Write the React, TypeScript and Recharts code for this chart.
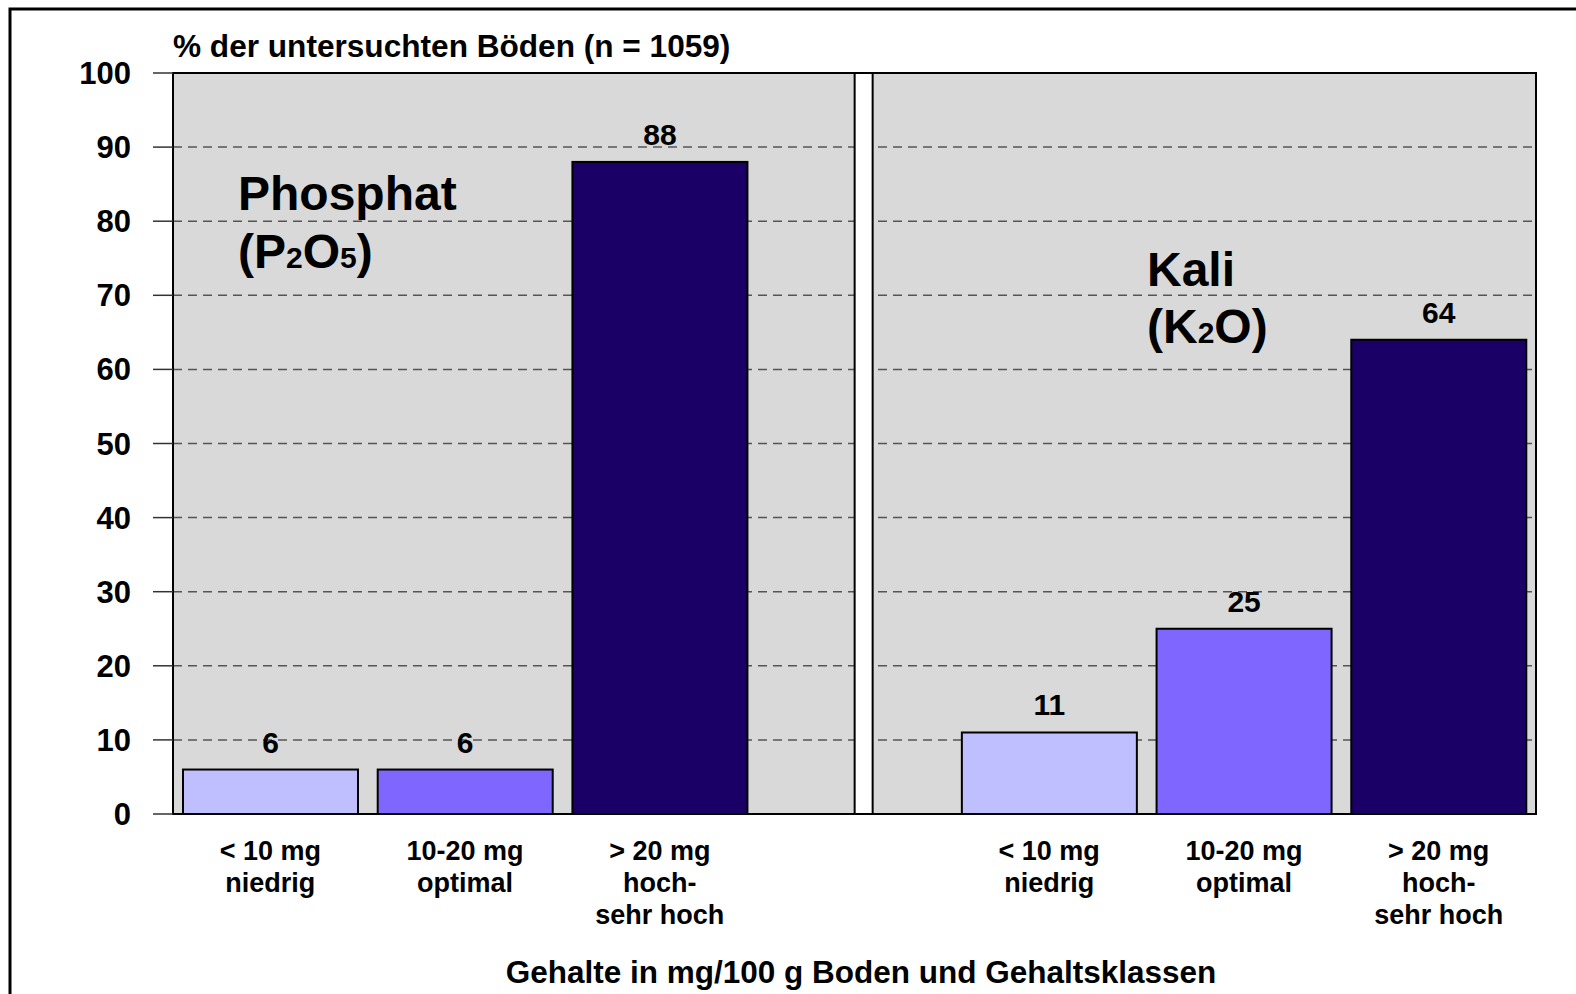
import { BarChart, Bar, XAxis, YAxis, CartesianGrid, Cell, LabelList, ReferenceArea } from "recharts"

// Gehaltsklassen (x-axis tick lines)
const classLabels = [
  ["< 10 mg", "niedrig"],
  ["10-20 mg", "optimal"],
  ["> 20 mg", "hoch-", "sehr hoch"],
]
// % der untersuchten Böden
const phosphat = [6, 6, 88]
const kali = [11, 25, 64]
const yTicks = [0, 10, 20, 30, 40, 50, 60, 70, 80, 90, 100]
const classColors = ["#bfbfff", "#7f66ff", "#1a0066"]

type Row = { key: string; lines: string[]; value: number; label?: number; cls: number; sep?: boolean }

const data: Row[] = [
  ...phosphat.map((v, i) => ({ key: `P${i}`, lines: classLabels[i], value: v, label: v, cls: i })),
  { key: "sep", lines: [], value: 100, cls: -1, sep: true },
  ...kali.map((v, i) => ({ key: `K${i}`, lines: classLabels[i], value: v, label: v, cls: i })),
]

const font = "'Liberation Sans', Arial, sans-serif"

function ClassTick(props: any) {
  const { x, y, payload } = props
  const row = data.find((d) => d.key === payload.value)
  const lines = row ? row.lines : []
  return (
    <text x={x} y={y} textAnchor="middle" fontSize={27} fontWeight="bold" fill="#000" fontFamily={font}>
      {lines.map((l, i) => (
        <tspan key={i} x={x} dy={i === 0 ? 46 : 32}>{l}</tspan>
      ))}
    </text>
  )
}

function BarShape(props: any) {
  const { x, y, width, height, fill, payload } = props
  if (payload && payload.sep) {
    // white divider between the two groups
    const cx = x + width / 2 + 9
    return <rect x={cx - 9} y={y} width={18} height={height} fill="#fff" stroke="#000" strokeWidth={2} />
  }
  return <rect x={x} y={y} width={width} height={height} fill={fill} stroke="#000" strokeWidth={2} />
}

export default function App() {
  return (
    <div style={{ position: "absolute", left: 0, top: 0, width: 1576, height: 994, background: "#fff", fontFamily: font }}>
      <BarChart
        width={1576}
        height={994}
        data={data}
        margin={{ top: 73, right: 40, bottom: 30, left: 0 }}
      >
        <CartesianGrid
          vertical={false}
          fill="#d9d9d9"
          fillOpacity={1}
          stroke="#555"
          strokeWidth={1.5}
          strokeDasharray="9 6"
        />
        <XAxis
          dataKey="key"
          height={150}
          tickLine={false}
          tickSize={0}
          tickMargin={0}
          interval={0}
          tick={<ClassTick />}
          axisLine={{ stroke: "#000", strokeWidth: 2 }}
        />
        <YAxis
          width={173}
          domain={[0, 100]}
          ticks={yTicks}
          interval={0}
          tickSize={20}
          tickMargin={22}
          tickLine={{ stroke: "#333", strokeWidth: 1.5 }}
          axisLine={{ stroke: "#000", strokeWidth: 2 }}
          tick={{ fontSize: 31, fontWeight: "bold", fill: "#000", fontFamily: font }}
        />
        <Bar dataKey="value" barSize={175} shape={<BarShape />} isAnimationActive={false}>
          {data.map((d) => (
            <Cell key={d.key} fill={d.cls >= 0 ? classColors[d.cls] : "#fff"} />
          ))}
          <LabelList
            dataKey="label"
            position="top"
            offset={17}
            fill="#000"
            fontSize={30}
            fontWeight="bold"
            fontFamily={font}
          />
        </Bar>
        <ReferenceArea y1={0} y2={100} fill="none" stroke="#000" strokeWidth={2} />
      </BarChart>
      <svg
        width={1576}
        height={994}
        style={{ position: "absolute", left: 0, top: 0, pointerEvents: "none" }}
        fontFamily={font}
        fontWeight="bold"
        fill="#000"
      >
        <rect x={10} y={9} width={1600} height={1000} fill="none" stroke="#000" strokeWidth={3} />
        <text x={173} y={57} fontSize={31.6}>% der untersuchten Böden (n = 1059)</text>
        <text x={861} y={983} fontSize={31.5} textAnchor="middle">Gehalte in mg/100 g Boden und Gehaltsklassen</text>
        <text x={238} y={210} fontSize={48}>Phosphat</text>
        <text x={238} y={268} fontSize={48}>
          (P<tspan fontSize={30}>2</tspan>O<tspan fontSize={30}>5</tspan>)
        </text>
        <text x={1147} y={286} fontSize={48}>Kali</text>
        <text x={1147} y={343} fontSize={48}>
          (K<tspan fontSize={30}>2</tspan>O)
        </text>
      </svg>
    </div>
  )
}
